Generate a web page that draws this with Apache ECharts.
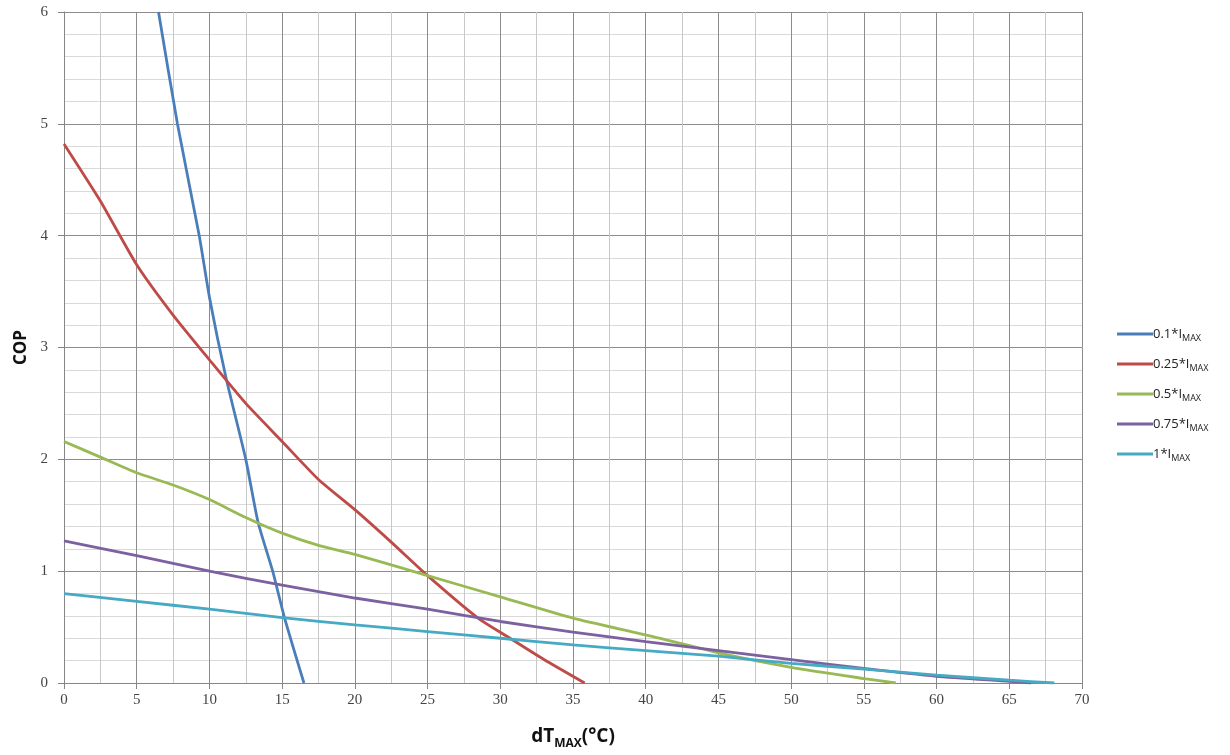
<!DOCTYPE html>
<html>
<head>
<meta charset="utf-8">
<script src="https://cdn.jsdelivr.net/npm/echarts@6/dist/echarts.min.js"></script>
<style>
  html, body { margin: 0; padding: 0; background: #fff; }
  #chart { width: 1230px; height: 755px; }
</style>
</head>
<body>
<div id="chart"></div>
<script>
// 图例名称
var seriesNames = ['0.1*I{sub|MAX}', '0.25*I{sub|MAX}', '0.5*I{sub|MAX}', '0.75*I{sub|MAX}', '1*I{sub|MAX}'];
var seriesColors = ['#4a7ebb', '#be4b48', '#98b954', '#7d60a0', '#46aac5'];

// 0.1*Imax
var dt01 = [6.5, 7.8, 9.3, 10, 11.14, 12.5, 13.34, 14.35, 15.15, 16.5];
var cop01 = [6.0, 5.0, 4.0, 3.45, 2.73, 2.0, 1.44, 1.0, 0.59, 0];
// 0.25*Imax
var dt025 = [0, 2.5, 5, 7.5, 10, 12.5, 15, 17.5, 20, 22.5, 25, 28.47, 30.67, 33, 35.8];
var cop025 = [4.82, 4.31, 3.74, 3.29, 2.89, 2.5, 2.16, 1.82, 1.55, 1.26, 0.96, 0.58, 0.40, 0.21, 0];
// 0.5*Imax
var dt05 = [0, 2.5, 5, 7.5, 10, 12.5, 15, 17.5, 20, 25, 30, 35, 40, 45, 50, 55, 57.2];
var cop05 = [2.16, 2.02, 1.88, 1.77, 1.64, 1.48, 1.34, 1.23, 1.15, 0.96, 0.77, 0.58, 0.43, 0.27, 0.14, 0.04, 0];
// 0.75*Imax
var dt075 = [0, 5, 10, 15, 20, 25, 30, 35, 40, 45, 50, 55, 60, 65, 66.5];
var cop075 = [1.27, 1.14, 1.0, 0.875, 0.76, 0.66, 0.55, 0.455, 0.37, 0.29, 0.21, 0.13, 0.06, 0.015, 0];
// 1*Imax
var dt1 = [0, 5, 10, 15, 20, 25, 30, 35, 40, 45, 50, 55, 60, 65, 68.1];
var cop1 = [0.80, 0.73, 0.66, 0.585, 0.52, 0.46, 0.40, 0.34, 0.29, 0.24, 0.175, 0.125, 0.07, 0.025, 0];

var xTicks = [0, 70, 5];
var yTicks = [0, 6, 1];

function pairs(xs, ys) {
    var arr = [];
    for (var i = 0; i < xs.length; i++) {
        arr.push([xs[i], ys[i]]);
    }
    return arr;
}

var allData = [pairs(dt01, cop01), pairs(dt025, cop025), pairs(dt05, cop05), pairs(dt075, cop075), pairs(dt1, cop1)];

var myChart = echarts.init(document.getElementById('chart'));

var series = [];
for (var k = 0; k < allData.length; k++) {
    series.push({
        name: seriesNames[k],
        type: 'line',
        data: allData[k],
        smooth: 0.2,
        showSymbol: false,
        symbol: 'none',
        color: seriesColors[k],
        lineStyle: { width: 2.8, color: seriesColors[k] }
    });
}

var option = {
    animation: false,
    grid: { left: 64, top: 12, right: 148, bottom: 71, containLabel: false },
    legend: {
        orient: 'vertical',
        left: 1117,
        top: 325,
        padding: 0,
        itemWidth: 36,
        itemHeight: 3,
        itemGap: 12,
        icon: 'rect',
        textStyle: {
            fontFamily: 'Open Sans',
            fontSize: 13,
            lineHeight: 18,
            color: '#222',
            padding: [0, 0, 0, -5],
            rich: {
                sub: { fontFamily: 'Open Sans', fontSize: 9, lineHeight: 9, verticalAlign: 'bottom', color: '#222' }
            }
        },
        data: seriesNames
    },
    xAxis: {
        type: 'value',
        min: xTicks[0],
        max: xTicks[1],
        interval: xTicks[2],
        name: 'dT{sub|MAX}(°C)',
        nameLocation: 'middle',
        nameGap: 41,
        nameTextStyle: {
            fontFamily: 'Open Sans',
            fontWeight: 'bold',
            fontSize: 19,
            lineHeight: 26,
            color: '#111',
            rich: {
                sub: { fontSize: 12, fontWeight: 'bold', fontFamily: 'Open Sans', color: '#111', lineHeight: 12, verticalAlign: 'bottom' }
            }
        },
        axisLine: { show: true, lineStyle: { color: '#868686', width: 1 } },
        axisTick: { show: true, length: 6, lineStyle: { color: '#868686' } },
        axisLabel: { fontFamily: 'Liberation Serif', fontSize: 15, color: '#444', margin: 10 },
        splitLine: { show: true, lineStyle: { color: '#8c8c8c', width: 1 } },
        minorTick: { show: false, splitNumber: 2 },
        minorSplitLine: { show: true, lineStyle: { color: '#c8c8c8', width: 1 } }
    },
    yAxis: {
        type: 'value',
        min: yTicks[0],
        max: yTicks[1],
        interval: yTicks[2],
        name: 'COP',
        nameLocation: 'middle',
        nameGap: 31,
        nameRotate: 90,
        nameTextStyle: { fontFamily: 'Open Sans', fontWeight: 'bold', fontSize: 17, color: '#111' },
        axisLine: { show: true, lineStyle: { color: '#868686', width: 1 } },
        axisTick: { show: true, length: 6, lineStyle: { color: '#868686' } },
        axisLabel: { fontFamily: 'Liberation Serif', fontSize: 15, color: '#444', margin: 16 },
        splitLine: { show: true, lineStyle: { color: '#8c8c8c', width: 1 } },
        minorTick: { show: false, splitNumber: 5 },
        minorSplitLine: { show: true, lineStyle: { color: '#d9d9d9', width: 1 } }
    },
    series: series
};

myChart.setOption(option);
</script>
</body>
</html>
